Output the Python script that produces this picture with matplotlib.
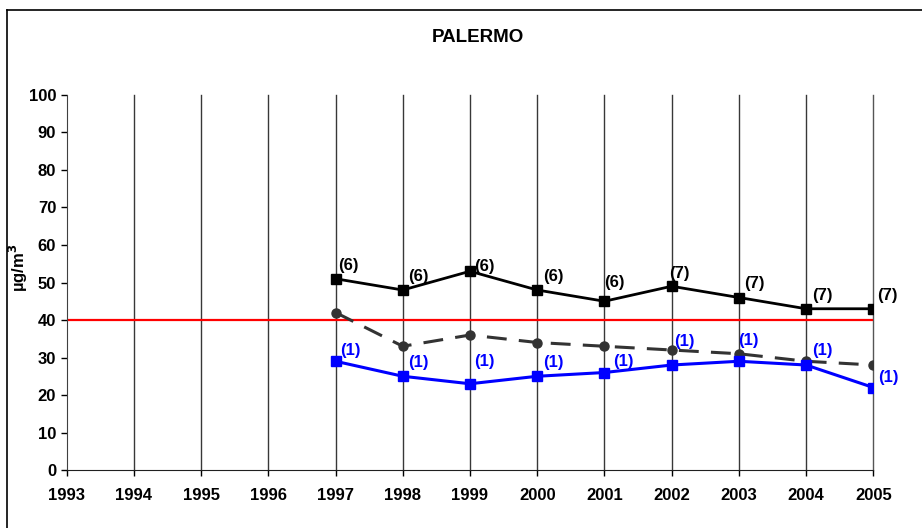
import matplotlib.pyplot as plt
from matplotlib.lines import Line2D

plt.rcParams['font.family'] = ['Liberation Sans', 'DejaVu Sans']
plt.rcParams['font.weight'] = 'bold'

# data
years = [1993, 1994, 1995, 1996, 1997, 1998, 1999, 2000, 2001, 2002, 2003, 2004, 2005]
data_years = [1997, 1998, 1999, 2000, 2001, 2002, 2003, 2004, 2005]
black_vals = [51, 48, 53, 48, 45, 49, 46, 43, 43]
black_labels = ['(6)', '(6)', '(6)', '(6)', '(6)', '(7)', '(7)', '(7)', '(7)']
gray_vals = [42, 33, 36, 34, 33, 32, 31, 29, 28]
blue_vals = [29, 25, 23, 25, 26, 28, 29, 28, 22]
blue_labels = ['(1)'] * 9
limit_value = 40

# label offsets in points (placement as in the original)
black_off = [(2, 6), (3.5, 6.5), (3, 0.5), (4.5, 6.5), (0, 10), (-1.5, 6), (3.5, 7), (4.5, 6.5), (3, 6)]
blue_off = [(3, 4.5), (4, 7), (3, 12.5), (4, 7), (6.5, 4.5), (2, 14), (-0.5, 12), (4, 7), (3.5, 4)]

fig = plt.figure(figsize=(9.22, 5.28), dpi=100)
ax = fig.add_axes([0.0723, 0.1098, 0.8749, 0.7103])

# vertical grid lines
for yr in years[1:]:
    ax.axvline(yr, color='#555555' if yr == years[-1] else '#383838',
               lw=1.0, zorder=0, clip_on=False)

ax.plot([years[0], years[-1]], [limit_value, limit_value], color='red', lw=1.6, zorder=1)

ax.plot(data_years, black_vals, color='black', lw=2, marker='s', ms=7.5, zorder=3)
ax.plot(data_years, gray_vals, color='#333333', lw=2.2, ls=(0, (6.5, 4)), marker='o', ms=6.5, zorder=2)
ax.plot(data_years, blue_vals, color='#0000ff', lw=2.2, marker='s', ms=7.5, zorder=3)

for x, y, t, off in zip(data_years, black_vals, black_labels, black_off):
    ax.annotate(t, (x, y), xytext=off, textcoords='offset points',
                fontsize=12, fontweight='bold', color='black')
for x, y, t, off in zip(data_years, blue_vals, blue_labels, blue_off):
    ax.annotate(t, (x, y), xytext=off, textcoords='offset points',
                fontsize=12, fontweight='bold', color='#0000ff')

ax.set_xlim(1993, 2005)
ax.set_ylim(0, 100)
ax.set_xticks(years)
ax.set_yticks(range(0, 101, 10))
ax.tick_params(direction='out', length=4, width=1, labelsize=12)
for lab in ax.get_xticklabels() + ax.get_yticklabels():
    lab.set_fontweight('bold')
ax.tick_params(axis='x', pad=9)
ax.spines['top'].set_visible(False)
ax.spines['right'].set_visible(False)
ax.spines['left'].set_color('#404040')
ax.spines['bottom'].set_color('#202020')

ax.set_ylabel('µg/m$^{\\mathbf{3}}$', fontsize=12, fontweight='bold')
ax.yaxis.set_label_coords(-0.046, 0.54)

fig.text(478 / 922, 1 - 37 / 528, 'PALERMO', ha='center', va='center',
         fontsize=13.5, fontweight='bold')

# outer chart frame (left and top visible)
fig.add_artist(Line2D([7 / 922, 7 / 922], [0, 1 - 10 / 528], color='black', lw=1.2))
fig.add_artist(Line2D([7 / 922, 1], [1 - 10 / 528, 1 - 10 / 528], color='black', lw=1.2))

fig.savefig('out.png', dpi=100)
